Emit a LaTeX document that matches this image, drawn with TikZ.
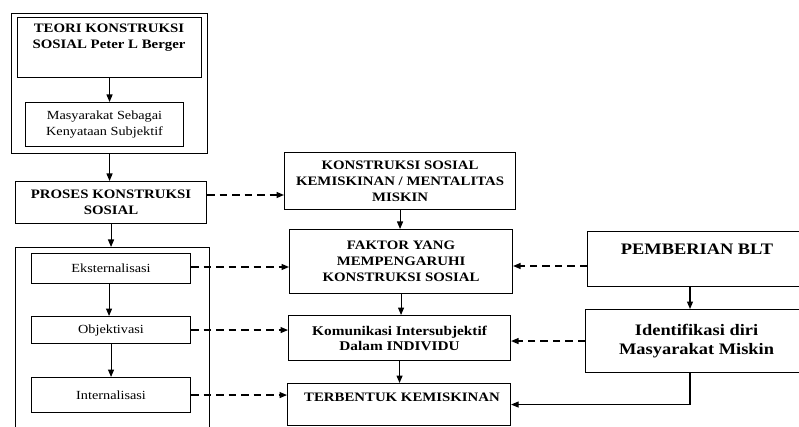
\documentclass[tikz,border=0pt]{standalone}
\usepackage{fontspec}
\setmainfont{Liberation Serif}[FakeStretch=1.15]
\usetikzlibrary{arrows.meta}
\begin{document}
\begin{tikzpicture}[x=1pt,y=-1pt,
  box/.style={draw, line width=1.1pt, rectangle, inner sep=0pt, align=center, anchor=north west},
  bft/.style={font=\fontsize{12.9}{16}\selectfont\bfseries, align=center, inner sep=0pt},
  bfbig/.style={font=\fontsize{16}{19}\selectfont\bfseries, align=center, inner sep=0pt},
  rgt/.style={font=\fontsize{12.4}{16.5}\selectfont, align=center, inner sep=0pt},
  arr/.style={line width=1.1pt, -{Triangle[length=7.5pt,width=6pt]}},
  darr/.style={line width=1.3pt, dash pattern=on 7.5pt off 5pt, -{Triangle[length=7.5pt,width=6pt]}}
]
\useasboundingbox (0,0) rectangle (799,427);
% left column
\node[box, minimum width=196pt, minimum height=140pt] (outerA) at (11,13) {};
\node[box, minimum width=184pt, minimum height=60pt] (teori) at (17,17) {};
\node[bft] (teoriT) at (109,38) {TEORI KONSTRUKSI\\SOSIAL Peter L Berger};
\node[box, minimum width=158pt, minimum height=44pt, rgt] (masy) at (25,102) {Masyarakat Sebagai\\Kenyataan Subjektif};
\node[box, minimum width=191pt, minimum height=42pt, bft] (proses) at (15,181) {PROSES KONSTRUKSI\\SOSIAL};
\node[box, minimum width=194pt, minimum height=186pt] (outerB) at (15,247) {};
\node[box, minimum width=159pt, minimum height=30pt, rgt] (ekst) at (31,253) {Eksternalisasi};
\node[box, minimum width=159pt, minimum height=27pt, rgt] (obj) at (31,316) {Objektivasi};
\node[box, minimum width=159pt, minimum height=35pt, rgt] (intern) at (31,377) {Internalisasi};
% middle column
\node[box, minimum width=231pt, minimum height=57pt, bft] (konst) at (284,152) {KONSTRUKSI SOSIAL\\KEMISKINAN / MENTALITAS\\MISKIN};
\node[box, minimum width=223pt, minimum height=64pt, bft] (faktor) at (289,229) {FAKTOR YANG\\MEMPENGARUHI\\KONSTRUKSI SOSIAL};
\node[box, minimum width=222pt, minimum height=45pt, bft, font=\fontsize{13.3}{15}\selectfont\bfseries] (komun) at (288,315) {Komunikasi Intersubjektif\\Dalam INDIVIDU};
\node[box, minimum width=223pt, minimum height=42pt] (terb) at (287,383) {};
\node[bft] (terbT) at (402,397) {TERBENTUK KEMISKINAN};
% right column
\node[box, minimum width=216pt, minimum height=55pt] (pemb) at (587,231) {};
\node[bfbig] (pembT) at (697,249) {PEMBERIAN BLT};
\node[box, minimum width=218pt, minimum height=63pt, bfbig] (ident) at (585,309) {\hspace*{4pt}Identifikasi diri\\\hspace*{4pt}Masyarakat Miskin};
% helper coordinates
\coordinate (yA) at (0,195);
\coordinate (yB) at (0,266);
\coordinate (yE) at (0,267);
\coordinate (xC) at (690,0);
% solid arrows
\draw[arr] (teori.south) -- (teori.south |- masy.north);
\draw[arr] (outerA.south) -- (outerA.south |- proses.north);
\draw[arr] (proses.south) -- (proses.south |- outerB.north);
\draw[arr] ([xshift=-2pt]ekst.south) -- ([xshift=-2pt]ekst.south |- obj.north);
\draw[arr] (obj.south) -- (obj.south |- intern.north);
\draw[arr] (konst.south) -- (konst.south |- faktor.north);
\draw[arr] (faktor.south) -- (faktor.south |- komun.north);
\draw[arr] (komun.south) -- (komun.south |- terb.north);
\draw[arr] (xC |- pemb.south) -- (xC |- ident.north);
\draw[arr] (xC |- ident.south) |- (terb.east);
% dashed arrows
\draw[darr] (proses.east |- yA) -- (konst.west |- yA);
\draw[darr] (ekst.east |- yE) -- (faktor.west |- yE);
\draw[darr] (obj.east) -- (obj.east -| komun.west);
\draw[darr] (intern.east) -- (intern.east -| terb.west);
\draw[darr] (pemb.west |- yB) -- (faktor.east |- yB);
\draw[darr] (ident.west) -- (ident.west -| komun.east);
\end{tikzpicture}
\end{document}
